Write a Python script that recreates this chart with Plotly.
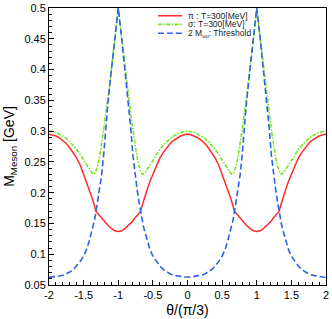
import plotly.graph_objects as go

theta = [-2.00,-1.95,-1.90,-1.85,-1.80,-1.75,-1.70,-1.65,-1.60,-1.55,-1.50,-1.46,-1.42,-1.38,-1.36,-1.34,-1.32,-1.30,-1.27,-1.24,-1.21,-1.18,-1.15,-1.10,-1.05,-1.00,
         -0.95,-0.90,-0.85,-0.82,-0.79,-0.76,-0.73,-0.70,-0.68,-0.66,-0.64,-0.62,-0.58,-0.54,-0.50,-0.45,-0.40,-0.35,-0.30,-0.25,-0.20,-0.15,-0.10,-0.05,0.00,
         0.05,0.10,0.15,0.20,0.25,0.30,0.35,0.40,0.45,0.50,0.54,0.58,0.62,0.64,0.66,0.68,0.70,0.73,0.76,0.79,0.82,0.85,0.90,0.95,1.00,
         1.05,1.10,1.15,1.18,1.21,1.24,1.27,1.30,1.32,1.34,1.36,1.38,1.42,1.46,1.50,1.55,1.60,1.65,1.70,1.75,1.80,1.85,1.90,1.95,2.00]

m_pion = [.295,.294,.292,.289,.285,.280,.273,.265,.256,.245,.230,.219,.206,.192,.185,.177,.169,.167,.163,.159,.154,.150,.147,.142,.138,.137,
          .138,.142,.147,.150,.154,.159,.163,.167,.169,.177,.185,.192,.206,.219,.230,.245,.256,.265,.273,.280,.285,.289,.292,.294,.295,
          .294,.292,.289,.285,.280,.273,.265,.256,.245,.230,.219,.206,.192,.185,.177,.169,.167,.163,.159,.154,.150,.147,.142,.138,.137,
          .138,.142,.147,.150,.154,.159,.163,.167,.169,.177,.185,.192,.206,.219,.230,.245,.256,.265,.273,.280,.285,.289,.292,.294,.295]

m_sigma = [.300,.299,.298,.295,.292,.288,.283,.277,.270,.262,.253,.245,.238,.232,.230,.231,.236,.243,.258,.278,.303,.330,.350,.400,.450,.500,
           .450,.400,.350,.330,.303,.278,.258,.243,.236,.231,.230,.232,.238,.245,.253,.262,.270,.277,.283,.288,.292,.295,.298,.299,.300,
           .299,.298,.295,.292,.288,.283,.277,.270,.262,.253,.245,.238,.232,.230,.231,.236,.243,.258,.278,.303,.330,.350,.400,.450,.500,
           .450,.400,.350,.330,.303,.278,.258,.243,.236,.231,.230,.232,.238,.245,.253,.262,.270,.277,.283,.288,.292,.295,.298,.299,.300]

threshold = [.0625,.063,.064,.0645,.066,.068,.071,.075,.081,.088,.097,.107,.121,.138,.147,.157,.170,.185,.207,.229,.262,.305,.345,.398,.450,.500,
             .450,.398,.345,.305,.262,.229,.207,.185,.170,.157,.147,.138,.121,.107,.097,.088,.081,.075,.071,.068,.066,.0645,.064,.063,.0625,
             .063,.064,.0645,.066,.068,.071,.075,.081,.088,.097,.107,.121,.138,.147,.157,.170,.185,.207,.229,.262,.305,.345,.398,.450,.500,
             .450,.398,.345,.305,.262,.229,.207,.185,.170,.157,.147,.138,.121,.107,.097,.088,.081,.075,.071,.068,.066,.0645,.064,.063,.0625]

legend_labels = ["π : T=300[MeV]", "σ: T=300[MeV]", "2 M<sub>uu</sub>: Threshold"]
x_tickvals = [-2, -1.5, -1, -0.5, 0, 0.5, 1, 1.5, 2]
x_ticktext = ["-2", "-1.5", "-1", "-0.5", "0", "0.5", "1", "1.5", "2"]

RED = "#ff2a2a"
GREEN = "#77e51a"
BLUE = "#2a62e8"
FONT = "Liberation Sans, Arial, sans-serif"
styles = [
    dict(color=RED, width=1.5, dash="solid"),
    dict(color=GREEN, width=1.6, dash="4px,1.5px,1.5px,1.5px"),
    dict(color=BLUE, width=1.6, dash="6px,3px"),
]

fig = go.Figure()
for ys, lab, st in zip([m_pion, m_sigma, threshold], legend_labels, styles):
    fig.add_trace(go.Scatter(x=theta, y=ys, mode="lines", name=lab, line=st,
                             showlegend=False, cliponaxis=True, hoverinfo="skip"))

# manual legend
rows_y = [0.972, 0.941, 0.909]
for st, lab, yy in zip(styles, legend_labels, rows_y):
    fig.add_shape(type="line", xref="paper", yref="paper", x0=0.393, x1=0.48, y0=yy, y1=yy,
                  line=dict(color=st["color"], width=st["width"], dash=st["dash"]))
    fig.add_annotation(xref="paper", yref="paper", x=0.496, y=yy, text=lab, showarrow=False,
                       xanchor="left", yanchor="middle",
                       font=dict(family=FONT, size=8.5, color="#222"))

axis_common = dict(showline=True, linecolor="black", linewidth=1, mirror=True, showgrid=False,
                   zeroline=False, ticks="inside", ticklen=5, tickcolor="black", tickwidth=1,
                   tickfont=dict(family=FONT, size=11, color="black"))

fig.update_xaxes(range=[-2, 2], tickvals=x_tickvals, ticktext=x_ticktext,
                 minor=dict(ticks="inside", ticklen=3, dtick=0.1, tickcolor="black", showgrid=False),
                 title=dict(text="θ/(π/3)", font=dict(family=FONT, size=14, color="black"), standoff=4),
                 **axis_common)
fig.update_yaxes(range=[0.05, 0.5], tick0=0.05, dtick=0.05,
                 minor=dict(ticks="inside", ticklen=3, dtick=0.01, tick0=0.05, tickcolor="black", showgrid=False),
                 title=dict(text="M<sub>Meson</sub> [GeV]", font=dict(family=FONT, size=14, color="black"), standoff=6),
                 **axis_common)

fig.update_layout(width=332, height=319, margin=dict(l=49, r=6, t=8, b=34, autoexpand=False),
                  paper_bgcolor="white", plot_bgcolor="white", showlegend=False, hovermode=False)

fig.write_html("out.html", config={"displayModeBar": False, "staticPlot": True},
               post_script="document.body.style.margin='0';document.body.style.overflow='hidden';")
